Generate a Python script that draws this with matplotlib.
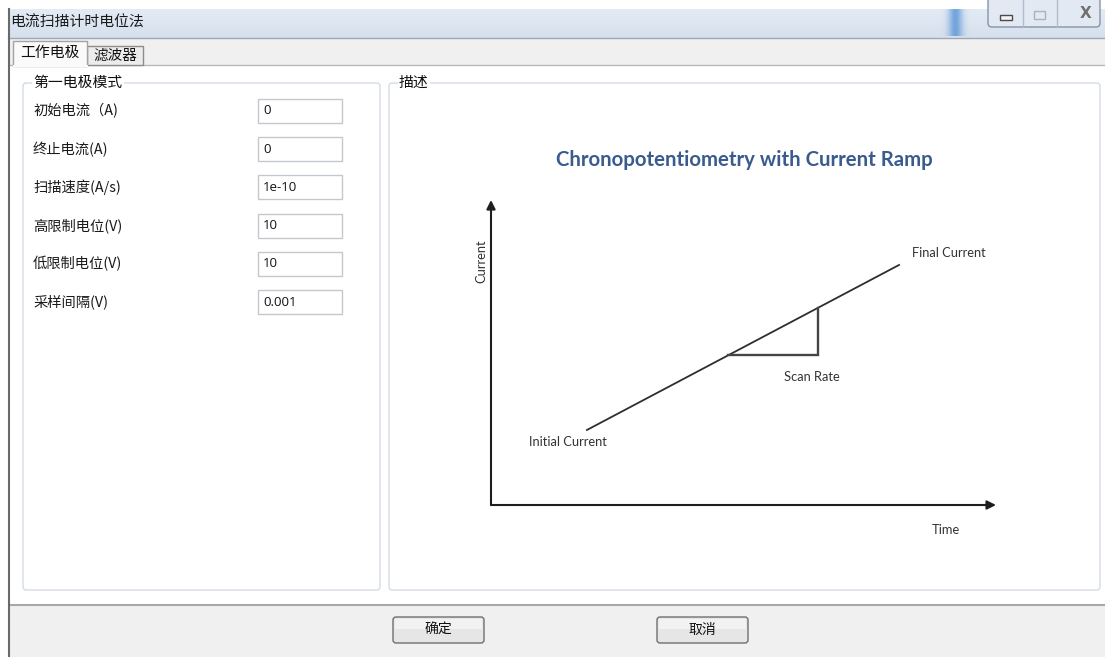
import numpy as np
import matplotlib.pyplot as plt
from matplotlib.patches import Rectangle, FancyBboxPatch

W, H = 1105, 657

# texts of the dialog
window_title = '电流扫描计时电位法'
tab_names = ['工作电极', '滤波器']
group_titles = ['第一电极模式', '描述']
field_labels = ['初始电流（A)', '终止电流(A)', '扫描速度(A/s)', '高限制电位(V)', '低限制电位(V)', '采样间隔(V)']
field_values = ['0', '0', '1e-10', '10', '10', '0.001']
button_names = ['确定', '取消']

# description diagram (axis units 0..10)
diagram_title = 'Chronopotentiometry with Current Ramp'
ramp_time = [1.90, 8.08]
ramp_current = [2.46, 7.87]
scan_rate_time = [4.69, 6.48]
ramp_labels = ['Initial Current', 'Final Current', 'Scan Rate']
axis_labels = ['Time', 'Current']

CJK = ['Noto Sans CJK SC', 'DejaVu Sans']
LAT = ['Lato', 'DejaVu Sans']
plt.rcParams['font.family'] = CJK

fig = plt.figure(figsize=(W / 100, H / 100), dpi=100)
ui = fig.add_axes([0, 0, 1, 1])


def rect(x0, y0, x1, y1, fc='none', ec='none', lw=1, z=1):
    ui.add_patch(Rectangle((x0, y0), x1 - x0, y1 - y0, fc=fc, ec=ec, lw=lw, zorder=z))


def rbox(x0, y0, x1, y1, fc='none', ec='none', lw=1, r=3, z=2):
    ui.add_patch(FancyBboxPatch((x0, y0), x1 - x0, y1 - y0,
                                boxstyle=f'round,pad=0,rounding_size={r}',
                                fc=fc, ec=ec, lw=lw, zorder=z))


# title bar gradient
grad = np.linspace(0, 1, 30)[:, None]
top_c = np.array([0.89, 0.92, 0.96])
bot_c = np.array([0.84, 0.88, 0.93])
img = top_c * (1 - grad[..., None]) + bot_c * grad[..., None]
img = np.repeat(img, 2, axis=1)
ui.imshow(img, extent=(8, W, 38, 9), aspect='auto', zorder=0)
# blue streak in the title bar
streak = np.zeros((1, 40, 4))
streak[..., :3] = [0.35, 0.58, 0.85]
streak[..., 3] = np.exp(-((np.arange(40) - 20) / 7.0) ** 2) * 0.8
ui.imshow(streak, extent=(935, 975, 36, 9), aspect='auto', zorder=0.5)
ui.text(10, 23, window_title, fontsize=10.7, va='center', ha='left', color='#1a1a1a')

# window control buttons
rbox(988, -4, 1100, 27, fc='#e2e9f2', ec='#8594a8', lw=1, r=4, z=2)
ui.plot([1023, 1023], [0, 27], color='#b2bdcc', lw=1, zorder=3)
ui.plot([1057, 1057], [0, 27], color='#b2bdcc', lw=1, zorder=3)
rect(1000, 15, 1012, 20, fc='#f4f4f4', ec='#4a4a4a', lw=1, z=3)
rect(1034, 11, 1045, 19, fc='none', ec='#a8b2c0', lw=1, z=3)
ui.text(1086, 14, 'X', fontsize=11, ha='center', va='center', color='#707070',
        family='DejaVu Sans', fontweight='bold', zorder=3)

# tab strip and page
rect(9, 38, W, 65, fc='#f0f0f0', z=0.6)
ui.plot([8, W], [38, 38], color='#a0a8b4', lw=1, zorder=1)
rect(10, 65, W, 604, fc='white', z=0.6)
ui.plot([10, W], [65, 65], color='#b8b8b8', lw=1, zorder=1)
rect(13, 41, 87, 66, fc='#fafafa', ec='#a3a3a3', lw=1, z=2)
ui.plot([13.5, 86.5], [65.5, 65.5], color='#fafafa', lw=1.5, zorder=3)
rect(87, 46, 143, 65, fc='#ececec', ec='#8c8c8c', lw=1, z=1.5)
ui.text(50, 53, tab_names[0], fontsize=10.7, ha='center', va='center', color='#111', zorder=4)
ui.text(115, 56, tab_names[1], fontsize=10.5, ha='center', va='center', color='#111', zorder=4)

# bottom bar
rect(10, 606, W, H, fc='#f0f0f0', z=0.6)
ui.plot([10, W], [605, 605], color='#a8a8a8', lw=1.5, zorder=1)
ui.plot([9, 9], [9, H], color='#6a6a6a', lw=1.5, zorder=3)

# group boxes
boxes = [(23, 83, 380, 590), (389, 83, 1100, 590)]
for (x0, y0, x1, y1), t in zip(boxes, group_titles):
    rbox(x0, y0, x1, y1, ec='#d3dce3', lw=1, r=3, z=2)
    ui.text(x0 + 10, y0, t, fontsize=10.7, ha='left', va='center', color='#111', zorder=4,
            bbox=dict(fc='white', ec='none', pad=1))

# parameter fields
for i, (lab, val) in enumerate(zip(field_labels, field_values)):
    top = 99 + 38.2 * i
    ui.text(33, top + 12, lab, fontsize=10.3, ha='left', va='center', color='#1a1a1a', zorder=4)
    rect(258, top, 342, top + 24, fc='white', ec='#c4c8cd', lw=1, z=3)
    ui.text(263, top + 12, val, fontsize=9.5, ha='left', va='center', color='#111',
            family=['Open Sans', 'DejaVu Sans'], zorder=4)

# buttons
for bx, name in zip([393, 657], button_names):
    rbox(bx, 617, bx + 91, 643, fc='#e6e6e6', ec='#707070', lw=1, r=3, z=3)
    rect(bx + 2, 618.5, bx + 89, 629, fc='#f2f2f2', z=3.5)
    ui.text(bx + 45.5, 630, name, fontsize=10, ha='center', va='center', color='#111', zorder=4)

ui.set_xlim(0, W)
ui.set_ylim(H, 0)
ui.axis('off')

# description diagram
ax = fig.add_axes([491 / W, 1 - 505 / H, (996 - 491) / W, (505 - 200) / H])
ax.set_xlim(0, 10)
ax.set_ylim(0, 10)
ax.axis('off')
arrow = dict(arrowstyle='-|>', color='#1e1e1e', lw=1.5, mutation_scale=13, shrinkA=0, shrinkB=0)
ax.annotate('', xy=(1, 0), xytext=(0, 0), xycoords='axes fraction', arrowprops=arrow)
ax.annotate('', xy=(0, 1), xytext=(0, 0), xycoords='axes fraction', arrowprops=arrow)

ax.plot(ramp_time, ramp_current, color='#2e2e2e', lw=1.3)
sr_current = np.interp(scan_rate_time, ramp_time, ramp_current)
t0, t1 = scan_rate_time
ax.plot([t0, t1, t1], [sr_current[0], sr_current[0], sr_current[1]],
        color='#454545', lw=1.7, solid_joinstyle='miter')

txt = dict(fontsize=9.3, color='#333333', family=LAT, clip_on=False)
ax.text(0.75, 2.07, ramp_labels[0], ha='left', va='center', **txt)
ax.text(8.34, 8.26, ramp_labels[1], ha='left', va='center', **txt)
ax.text(6.36, 4.2, ramp_labels[2], ha='center', va='center', **txt)
ax.text(9.0, -0.82, axis_labels[0], ha='center', va='center', **txt)
ax.text(-0.2, 8.0, axis_labels[1], ha='center', va='center', rotation=90, **txt)
ax.text(5.01, 11.31, diagram_title, ha='center', va='center', fontsize=14.7,
        fontweight='bold', color='#3a5b8e', family=LAT, clip_on=False)

fig.savefig('out.png', dpi=100)
